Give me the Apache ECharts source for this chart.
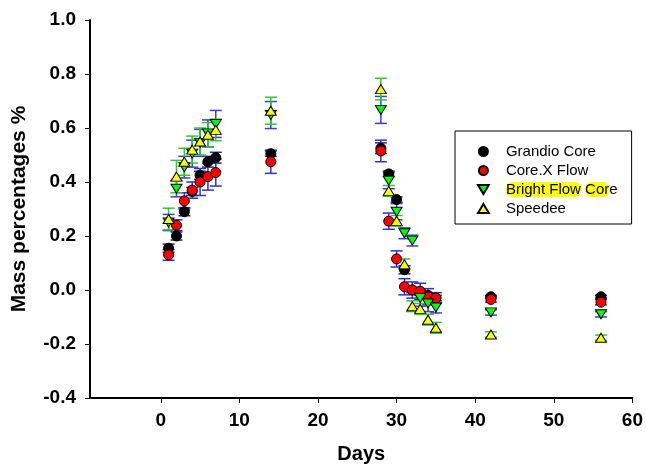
<!DOCTYPE html>
<html>
<head>
<meta charset="utf-8">
<script src="https://cdn.jsdelivr.net/npm/echarts@6/dist/echarts.min.js"></script>
<style>html,body{margin:0;padding:0;background:#fff}#c{width:646px;height:469px}</style>
</head>
<body>
<div id="c"></div>
<script>
var days = [1,2,3,4,5,6,7,14,28,29,30,31,32,33,34,35,42,56];
var grandio = [0.155,0.20,0.29,0.365,0.425,0.475,0.49,0.505,0.525,0.43,0.335,0.075,0.0,-0.01,-0.02,-0.03,-0.025,-0.025];
var grandioErr = [0.015,0.015,0.015,0.015,0.015,0.02,0.02,0.01,0.02,0.01,0.01,0.015,0.01,0.01,0.01,0.01,0.005,0.005];
var coreX = [0.13,0.24,0.33,0.37,0.40,0.42,0.435,0.475,0.515,0.255,0.115,0.012,0.0,-0.005,-0.025,-0.03,-0.035,-0.045];
var coreXErr = [0.02,0.02,0.03,0.03,0.05,0.05,0.05,0.043,0.04,0.03,0.03,0.03,0.03,0.03,0.03,0.02,0.01,0.01];
var bfc = [0.25,0.375,0.455,0.505,0.545,0.58,0.615,0.648,0.667,0.405,0.29,0.21,0.183,-0.03,-0.05,-0.065,-0.083,-0.09];
var bfcErr = [0.03,0.03,0.04,0.05,0.05,0.05,0.05,0.05,0.05,0.03,0.03,0.02,0.02,0.03,0.03,0.02,0.01,0.01];
var speedee = [0.263,0.42,0.475,0.52,0.55,0.575,0.593,0.664,0.744,0.367,0.256,0.095,-0.06,-0.07,-0.11,-0.14,-0.165,-0.177];
var speedeeErr = [0.04,0.06,0.05,0.05,0.05,0.045,0.04,0.05,0.04,0.02,0.02,0.02,0.02,0.02,0.02,0.02,0.01,0.01];
var xTicks = [0,10,20,30,40,50,60];
var seriesNames = ['Grandio Core','Core.X Flow','Bright Flow Core','Speedee'];

var FONT = "'Liberation Sans', Arial, sans-serif";
var DOWN = 'path://M0,0L12,0L6,10Z';
var UP = 'path://M6,0L12,10L0,10Z';

function pts(vals){ return days.map(function(d,i){ return [d, vals[i]]; }); }
function errs(vals, e){ return days.map(function(d,i){ return [d, vals[i]-e[i], vals[i]+e[i]]; }); }

function errSeries(vals, e, color){
  return {
    type:'custom', z:1, silent:true,
    data: errs(vals, e),
    encode:{x:0, y:[1,2]},
    renderItem:function(params, api){
      var lo = api.coord([api.value(0), api.value(1)]);
      var hi = api.coord([api.value(0), api.value(2)]);
      var hw = 6;
      var st = {stroke: color, lineWidth: 1.5};
      return {type:'group', children:[
        {type:'line', shape:{x1:lo[0], y1:lo[1], x2:hi[0], y2:hi[1]}, style:st},
        {type:'line', shape:{x1:lo[0]-hw, y1:lo[1], x2:lo[0]+hw, y2:lo[1]}, style:st},
        {type:'line', shape:{x1:hi[0]-hw, y1:hi[1], x2:hi[0]+hw, y2:hi[1]}, style:st}
      ]};
    }
  };
}
function scat(name, vals, color, symbol, size){
  return {
    name:name, type:'scatter', z:3, data: pts(vals),
    symbol: symbol, symbolSize: size,
    itemStyle:{color: color, borderColor:'#000', borderWidth:1, opacity:1}
  };
}

var chart = echarts.init(document.getElementById('c'), null, {renderer:'canvas'});
chart.setOption({
  animation:false,
  backgroundColor:'#fff',
  grid:{left:90, right:11, top:20, bottom:71, containLabel:false},
  xAxis:{
    type:'value', min:-9, max:60,
    name:'Days', nameLocation:'middle', nameGap:46,
    nameTextStyle:{fontFamily:FONT, fontWeight:'bold', fontSize:20, color:'#000'},
    axisLine:{onZero:false, lineStyle:{color:'#000', width:2}},
    axisTick:{show:true, length:5, lineStyle:{color:'#000', width:1}, customValues: xTicks},
    axisLabel:{fontFamily:FONT, fontWeight:'bold', fontSize:19, color:'#000', margin:13, customValues: xTicks},
    splitLine:{show:false}
  },
  yAxis:{
    type:'value', min:-0.4, max:1.0, interval:0.2,
    name:'Mass percentages %', nameLocation:'middle', nameGap:60,
    nameTextStyle:{fontFamily:FONT, fontWeight:'bold', fontSize:21, color:'#000'},
    axisLine:{onZero:false, lineStyle:{color:'#000', width:2}},
    axisTick:{show:true, length:5, lineStyle:{color:'#000', width:1}},
    axisLabel:{fontFamily:FONT, fontWeight:'bold', fontSize:19, color:'#000', margin:14,
      formatter:function(v){ return v.toFixed(1); }},
    splitLine:{show:false}
  },
  legend:{
    orient:'vertical', left:455, top:131,
    padding:[11,14,6,22], itemGap:0, itemWidth:35, itemHeight:9,
    borderColor:'#000', borderWidth:1, backgroundColor:'#fff',
    symbolRotate:0,
    textStyle:{fontFamily:FONT, fontSize:15, color:'#000', lineHeight:19,
      rich:{hl:{fontFamily:FONT, fontSize:15, color:'#000', lineHeight:19, backgroundColor:'#ffff00', borderRadius:6}}},
    formatter:function(n){ return n === 'Bright Flow Core' ? '{hl|Bright Flow} {hl|Cor}e' : n; },
    data:[
      {name:seriesNames[0], icon:'circle'},
      {name:seriesNames[1], icon:'circle'},
      {name:seriesNames[2], icon:DOWN},
      {name:seriesNames[3], icon:UP}
    ]
  },
  series:[
    errSeries(grandio, grandioErr, '#35267f'),
    errSeries(coreX, coreXErr, '#2f2fd8'),
    errSeries(bfc, bfcErr, '#3b3be0'),
    errSeries(speedee, speedeeErr, '#2ec82e'),
    scat(seriesNames[0], grandio, '#000000', 'circle', 10),
    scat(seriesNames[1], coreX, '#ff0000', 'circle', 10),
    scat(seriesNames[2], bfc, '#00ff00', DOWN, [11,9]),
    scat(seriesNames[3], speedee, '#ffff00', UP, [11,9])
  ]
});
</script>
</body>
</html>
